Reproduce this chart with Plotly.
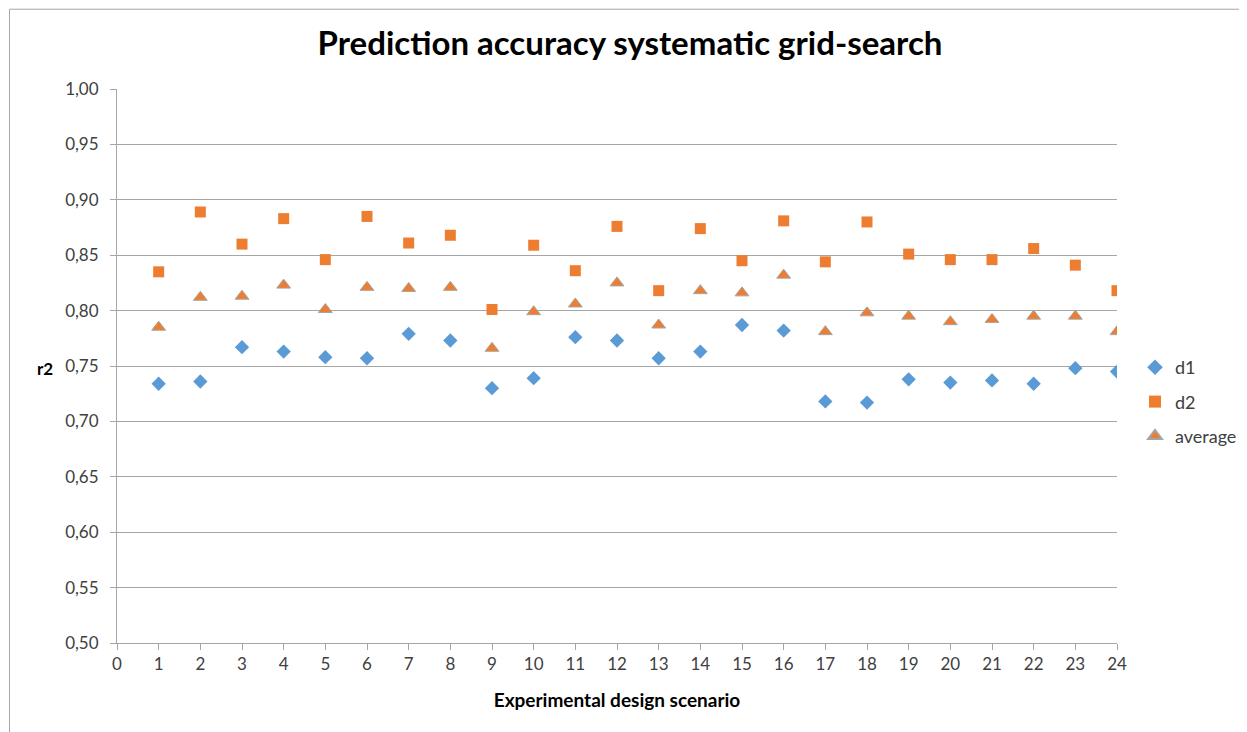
import plotly.graph_objects as go

scenarios = list(range(1, 25))
d1 = [0.734, 0.736, 0.767, 0.763, 0.758, 0.757, 0.779, 0.773, 0.730, 0.739, 0.776, 0.773,
      0.757, 0.763, 0.787, 0.782, 0.718, 0.717, 0.738, 0.735, 0.737, 0.734, 0.748, 0.745]
d2 = [0.835, 0.889, 0.860, 0.883, 0.846, 0.885, 0.861, 0.868, 0.801, 0.859, 0.836, 0.876,
      0.818, 0.874, 0.845, 0.881, 0.844, 0.880, 0.851, 0.846, 0.846, 0.856, 0.841, 0.818]
average = [0.785, 0.812, 0.813, 0.823, 0.801, 0.821, 0.820, 0.821, 0.766, 0.799, 0.806, 0.825,
           0.787, 0.818, 0.816, 0.832, 0.781, 0.798, 0.795, 0.790, 0.792, 0.795, 0.795, 0.781]
x_ticks = list(range(0, 25))
y_ticks = [0.50, 0.55, 0.60, 0.65, 0.70, 0.75, 0.80, 0.85, 0.90, 0.95, 1.00]
y_labels = [f"{v:.2f}".replace(".", ",") for v in y_ticks]

FONT = "Lato, 'Open Sans', sans-serif"

fig = go.Figure()
fig.add_trace(go.Scatter(x=scenarios, y=d1, mode="markers", name="d1", legendgroup="a",
                         marker=dict(symbol="diamond", size=11, color="#5B9BD5")))
fig.add_trace(go.Scatter(x=scenarios, y=d2, mode="markers", name="d2", legendgroup="b",
                         marker=dict(symbol="square", size=11, color="#ED7D31")))
fig.add_trace(go.Scatter(x=scenarios, y=average, mode="markers", name="average", legendgroup="c",
                         marker=dict(symbol="triangle-up", size=12, color="#ED7D31",
                                     line=dict(color="#A5A5A5", width=1))))

fig.update_layout(
    width=1239, height=724,
    margin=dict(l=109, r=130, t=81, b=89, autoexpand=False),
    paper_bgcolor="white", plot_bgcolor="white",
    font=dict(family=FONT, color="#595959", size=17),
    title=dict(text="<b>Prediction accuracy systematic grid-search</b>",
               xref="paper", x=0.513, xanchor="center", y=0.951, yanchor="middle",
               font=dict(size=33, color="black", family=FONT)),
    legend=dict(x=1.018, y=0.435, xanchor="left", yanchor="middle",
                font=dict(size=18, color="#404040"), tracegroupgap=8,
                itemsizing="constant"),
    xaxis=dict(range=[0, 24], tickmode="array", tickvals=x_ticks,
               ticktext=[str(v) for v in x_ticks],
               showgrid=False, zeroline=False, showline=True, linecolor="#A6A6A6",
               ticks="outside", ticklen=6, tickcolor="#A6A6A6",
               tickfont=dict(size=17, color="#404040"),
               title=dict(text="<b>Experimental design scenario</b>", standoff=20,
                          font=dict(size=19, color="black"))),
    yaxis=dict(range=[0.5, 1.0], tickmode="array", tickvals=y_ticks, ticktext=y_labels,
               showgrid=True, gridcolor="#A6A6A6", gridwidth=1, zeroline=False,
               showline=True, linecolor="#A6A6A6",
               ticks="outside", ticklen=6, tickcolor="#A6A6A6",
               ticklabelstandoff=8,
               tickfont=dict(size=17, color="#404040")),
)

fig.add_annotation(text="<b>r2</b>", xref="paper", yref="paper", x=-0.072, y=0.496,
                   xanchor="center", yanchor="middle", showarrow=False,
                   font=dict(size=17, color="black", family=FONT))

# chart frame (left and top edges visible)
fig.add_shape(type="line", xref="paper", yref="paper", x0=-0.1075, x1=-0.1075, y0=-0.2, y1=1.144,
              line=dict(color="#A6A6A6", width=1))
fig.add_shape(type="line", xref="paper", yref="paper", x0=-0.1075, x1=1.2, y0=1.144, y1=1.144,
              line=dict(color="#A6A6A6", width=1))

fig.write_html("out.html")
